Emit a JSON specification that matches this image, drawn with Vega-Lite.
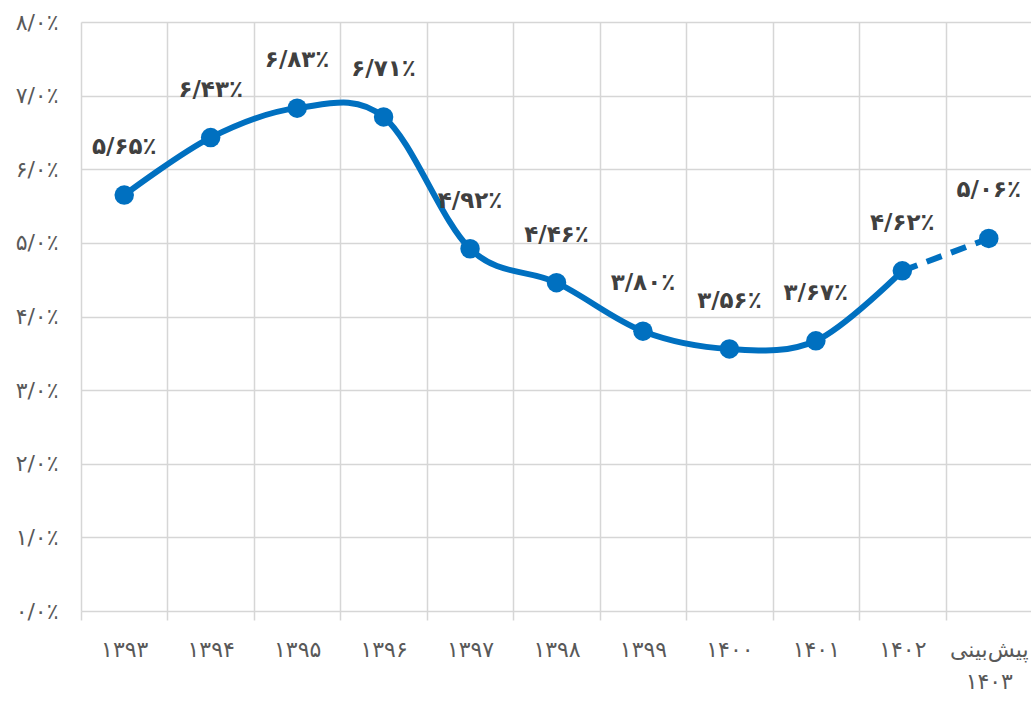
{
  "$schema": "https://vega.github.io/schema/vega-lite/v6.json",
  "width": 951,
  "height": 589,
  "autosize": {"type": "none"},
  "padding": {"left": 81, "top": 22, "right": 0, "bottom": 91},
  "background": "white",
  "config": {
    "view": {"stroke": null},
    "font": "DejaVu Sans"
  },
  "data": {
    "values": [
      {"year": "۱۳۹۳", "value": 5.65, "label": "۵/۶۵٪", "actual": true, "dashed": false},
      {"year": "۱۳۹۴", "value": 6.43, "label": "۶/۴۳٪", "actual": true, "dashed": false},
      {"year": "۱۳۹۵", "value": 6.83, "label": "۶/۸۳٪", "actual": true, "dashed": false},
      {"year": "۱۳۹۶", "value": 6.71, "label": "۶/۷۱٪", "actual": true, "dashed": false},
      {"year": "۱۳۹۷", "value": 4.92, "label": "۴/۹۲٪", "actual": true, "dashed": false},
      {"year": "۱۳۹۸", "value": 4.46, "label": "۴/۴۶٪", "actual": true, "dashed": false},
      {"year": "۱۳۹۹", "value": 3.80, "label": "۳/۸۰٪", "actual": true, "dashed": false},
      {"year": "۱۴۰۰", "value": 3.56, "label": "۳/۵۶٪", "actual": true, "dashed": false},
      {"year": "۱۴۰۱", "value": 3.67, "label": "۳/۶۷٪", "actual": true, "dashed": false},
      {"year": "۱۴۰۲", "value": 4.62, "label": "۴/۶۲٪", "actual": true, "dashed": true},
      {"year": "پیش‌بینی ۱۴۰۳", "value": 5.06, "label": "۵/۰۶٪", "actual": false, "dashed": true}
    ]
  },
  "encoding": {
    "x": {
      "field": "year",
      "type": "ordinal",
      "scale": {
        "domain": ["۱۳۹۳", "۱۳۹۴", "۱۳۹۵", "۱۳۹۶", "۱۳۹۷", "۱۳۹۸", "۱۳۹۹", "۱۴۰۰", "۱۴۰۱", "۱۴۰۲", "پیش‌بینی ۱۴۰۳"],
        "paddingInner": 0,
        "paddingOuter": 0
      },
      "axis": {
        "title": null,
        "domain": false,
        "grid": true,
        "gridColor": "#d6d6d6",
        "gridWidth": 1.5,
        "tickBand": "extent",
        "ticks": true,
        "tickColor": "#d6d6d6",
        "tickWidth": 1.5,
        "tickSize": 9,
        "labelAngle": 0,
        "labelPadding": 19,
        "labelFontSize": 22,
        "labelColor": "#595959",
        "labelLineHeight": 32,
        "labelOverlap": false,
        "labelBound": false,
        "labelFlush": false,
        "labelExpr": "datum.value == 'پیش‌بینی ۱۴۰۳' ? ['پیش‌بینی', '۱۴۰۳'] : datum.value"
      }
    },
    "y": {
      "field": "value",
      "type": "quantitative",
      "scale": {"domain": [0, 8], "nice": false, "zero": true},
      "axis": {
        "title": null,
        "domain": false,
        "ticks": false,
        "values": [0, 1, 2, 3, 4, 5, 6, 7, 8],
        "grid": true,
        "gridColor": "#d6d6d6",
        "gridWidth": 1.5,
        "labelPadding": 23,
        "labelFontSize": 22,
        "labelColor": "#595959",
        "labelExpr": "['۰/۰٪','۱/۰٪','۲/۰٪','۳/۰٪','۴/۰٪','۵/۰٪','۶/۰٪','۷/۰٪','۸/۰٪'][datum.value]"
      }
    }
  },
  "layer": [
    {
      "transform": [{"filter": "datum.dashed"}],
      "mark": {"type": "line", "color": "#0070C0", "strokeWidth": 6, "strokeDash": [16, 10], "strokeCap": "butt"}
    },
    {
      "transform": [{"filter": "datum.actual"}],
      "mark": {"type": "line", "color": "#0070C0", "strokeWidth": 6, "interpolate": "cardinal", "strokeCap": "round"}
    },
    {
      "mark": {"type": "circle", "color": "#0070C0", "opacity": 1, "size": 380}
    },
    {
      "mark": {"type": "text", "dy": -48, "baseline": "middle", "align": "center", "fontSize": 23, "fontWeight": "bold", "color": "#404040"},
      "encoding": {"text": {"field": "label"}}
    }
  ]
}
